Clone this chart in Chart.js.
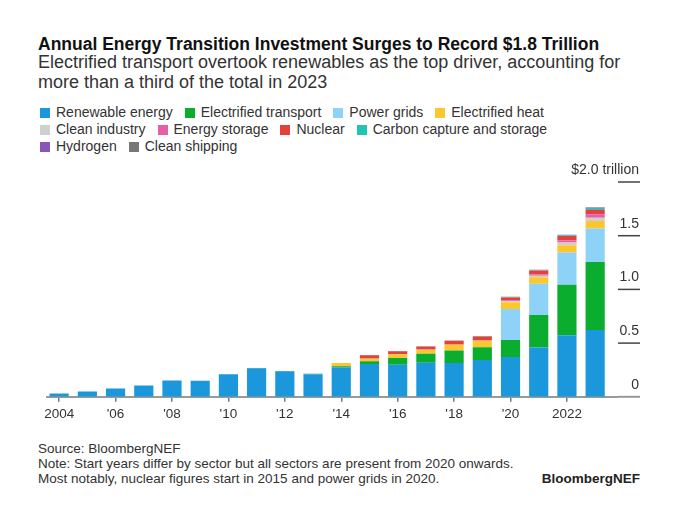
<!DOCTYPE html>
<html>
<head>
<meta charset="utf-8">
<script src="https://cdn.jsdelivr.net/npm/chart.js@4.4.1/dist/chart.umd.min.js"></script>
<style>
  body { margin: 0; background: #fff; font-family: "Liberation Sans", Arial, sans-serif; color: #222; }
  .wrap { position: relative; width: 680px; height: 514px; overflow: hidden; }
  .title { position: absolute; left: 38px; top: 34px; font-size: 17.5px; font-weight: bold; line-height: 21px; color: #111; white-space: nowrap; }
  .sub { position: absolute; left: 38px; top: 52px; font-size: 18px; line-height: 20px; color: #333; width: 630px; white-space: nowrap; }
  .legend { position: absolute; left: 40px; top: 104px; width: 620px; display: flex; flex-wrap: wrap; font-size: 14px; line-height: 17px; color: #333; }
  .legend span.item { display: inline-flex; align-items: center; margin-right: 12px; white-space: nowrap; }
  .legend i { display: inline-block; width: 10px; height: 10px; margin-right: 6px; }
  .legend .br { flex-basis: 100%; height: 0; }
  #c { position: absolute; left: 40px; top: 158px; }
  .foot { position: absolute; left: 38px; top: 441px; font-size: 13.5px; line-height: 15px; color: #333; }
  .brand { position: absolute; right: 40px; top: 471px; font-size: 13.5px; font-weight: bold; color: #222; }
</style>
</head>
<body>
<div class="wrap">
  <div class="title">Annual Energy Transition Investment Surges to Record $1.8 Trillion</div>
  <div class="sub">Electrified transport overtook renewables as the top driver, accounting for<br>more than a third of the total in 2023</div>
  <div class="legend" id="legend"></div>
  <canvas id="c" width="600" height="268"></canvas>
  <div class="foot">Source: BloombergNEF<br>Note: Start years differ by sector but all sectors are present from 2020 onwards.<br>Most notably, nuclear figures start in 2015 and power grids in 2020.</div>
  <div class="brand">BloombergNEF</div>
</div>
<script>
// years on the x axis
const years = [2004, 2005, 2006, 2007, 2008, 2009, 2010, 2011, 2012, 2013,
               2014, 2015, 2016, 2017, 2018, 2019, 2020, 2021, 2022, 2023];
const xTickYears = [2004, 2006, 2008, 2010, 2012, 2014, 2016, 2018, 2020, 2022];
const xTickLabels = ['2004', "'06", "'08", "'10", "'12", "'14", "'16", "'18", "'20", '2022'];
const yTickValues = [0, 0.5, 1, 1.5, 2];
const yTickLabels = ['0', '0.5', '1.0', '1.5', '$2.0 trillion'];

// $ trillion
const renewable = [0.030, 0.050, 0.078, 0.105, 0.152, 0.150, 0.210, 0.265, 0.238, 0.211,
                   0.272, 0.305, 0.298, 0.318, 0.315, 0.343, 0.371, 0.458, 0.574, 0.621];
const transport = [0, 0, 0, 0, 0, 0, 0.001, 0.002, 0.003, 0.004,
                   0.012, 0.025, 0.064, 0.084, 0.115, 0.119, 0.159, 0.304, 0.469, 0.634];
const grids     = [0, 0, 0, 0, 0, 0, 0, 0, 0, 0,
                   0, 0, 0, 0, 0, 0, 0.288, 0.290, 0.300, 0.313];
const heat      = [0, 0, 0, 0, 0, 0, 0, 0, 0, 0,
                   0.031, 0.025, 0.034, 0.035, 0.054, 0.059, 0.062, 0.062, 0.067, 0.068];
const industry  = [0, 0, 0, 0, 0, 0, 0, 0, 0, 0,
                   0, 0, 0, 0, 0, 0, 0.010, 0.012, 0.027, 0.031];
const storage   = [0, 0, 0, 0, 0, 0, 0, 0, 0, 0,
                   0, 0.002, 0.002, 0.003, 0.004, 0.006, 0.010, 0.014, 0.021, 0.033];
const nuclear   = [0, 0, 0, 0, 0, 0, 0, 0, 0, 0,
                   0, 0.031, 0.027, 0.028, 0.033, 0.035, 0.025, 0.035, 0.040, 0.040];
const ccs       = [0, 0, 0, 0, 0, 0, 0, 0, 0, 0,
                   0, 0.002, 0.002, 0.002, 0.003, 0.003, 0.004, 0.006, 0.007, 0.011];
const hydrogen  = [0, 0, 0, 0, 0, 0, 0, 0, 0, 0,
                   0, 0, 0, 0, 0, 0, 0.001, 0.002, 0.004, 0.010];
const shipping  = [0, 0, 0, 0, 0, 0, 0, 0, 0, 0,
                   0, 0, 0, 0, 0, 0, 0.001, 0.001, 0.001, 0.004];

const series = [
  { label: 'Renewable energy', data: renewable, color: '#1b98db' },
  { label: 'Electrified transport', data: transport, color: '#0aad2e' },
  { label: 'Power grids', data: grids, color: '#8fd2f8' },
  { label: 'Electrified heat', data: heat, color: '#fbc72c' },
  { label: 'Clean industry', data: industry, color: '#cfcfcf' },
  { label: 'Energy storage', data: storage, color: '#e65fa6' },
  { label: 'Nuclear', data: nuclear, color: '#e5413c' },
  { label: 'Carbon capture and storage', data: ccs, color: '#21c4b1' },
  { label: 'Hydrogen', data: hydrogen, color: '#8b55b6' },
  { label: 'Clean shipping', data: shipping, color: '#777777' },
];

// legend (rows break after heat and CCS like the original)
const legend = document.getElementById('legend');
series.forEach((s, i) => {
  const el = document.createElement('span');
  el.className = 'item';
  el.innerHTML = `<i style="background:${s.color}"></i>${s.label}`;
  legend.appendChild(el);
  if (i === 3 || i === 7) {
    const br = document.createElement('span');
    br.className = 'br';
    legend.appendChild(br);
  }
});

// right hand value labels sit on short marks, Bloomberg style
const rightTicks = {
  id: 'rightTicks',
  afterDraw(chart) {
    const y = chart.scales.y;
    const area = chart.chartArea;
    const ctx = chart.ctx;
    ctx.save();
    ctx.font = '14px "Liberation Sans", Arial, sans-serif';
    ctx.textAlign = 'right';
    ctx.textBaseline = 'middle';
    yTickValues.forEach((v, i) => {
      const py = y.getPixelForValue(v);
      if (v !== 0) {
        ctx.strokeStyle = '#444';
        ctx.lineWidth = 1.5;
      } else {
        ctx.strokeStyle = '#999';
        ctx.lineWidth = 2;
      }
      ctx.beginPath();
      ctx.moveTo(area.right, py);
      ctx.lineTo(area.right + 22, py);
      ctx.stroke();
      ctx.fillStyle = '#333';
      ctx.fillText(yTickLabels[i], area.right + 21, py - 12);
    });
    ctx.restore();
  }
};

const config = {
  type: 'bar',
  data: {
    labels: years,
    datasets: series.map(s => ({
      label: s.label,
      data: s.data,
      backgroundColor: s.color,
      borderWidth: 0,
      barPercentage: 0.68,
      categoryPercentage: 1
    }))
  },
  options: {
    responsive: false,
    animation: false,
    layout: { padding: { left: 6, top: 24, right: 22, bottom: 0 } },
    plugins: { legend: { display: false }, tooltip: { enabled: false } },
    scales: {
      x: {
        type: 'linear',
        stacked: true,
        offset: false,
        min: 2003.575,
        max: 2023.81,
        afterBuildTicks: (scale) => {
          scale.ticks = xTickYears.map(v => ({ value: v }));
        },
        ticks: {
          autoSkip: false,
          maxRotation: 0,
          padding: 4,
          color: '#333',
          font: { family: 'Liberation Sans', size: 13.5 },
          callback: (v) => xTickLabels[xTickYears.indexOf(v)]
        },
        grid: { drawOnChartArea: false, drawTicks: true, tickLength: 5, color: '#777', lineWidth: 1.5, offset: false },
        border: { display: true, color: '#999', width: 2 }
      },
      y: {
        stacked: true,
        display: false,
        min: 0,
        max: 2
      }
    }
  },
  plugins: [rightTicks]
};

const myChart = new Chart(document.getElementById('c'), config);
</script>
</body>
</html>
